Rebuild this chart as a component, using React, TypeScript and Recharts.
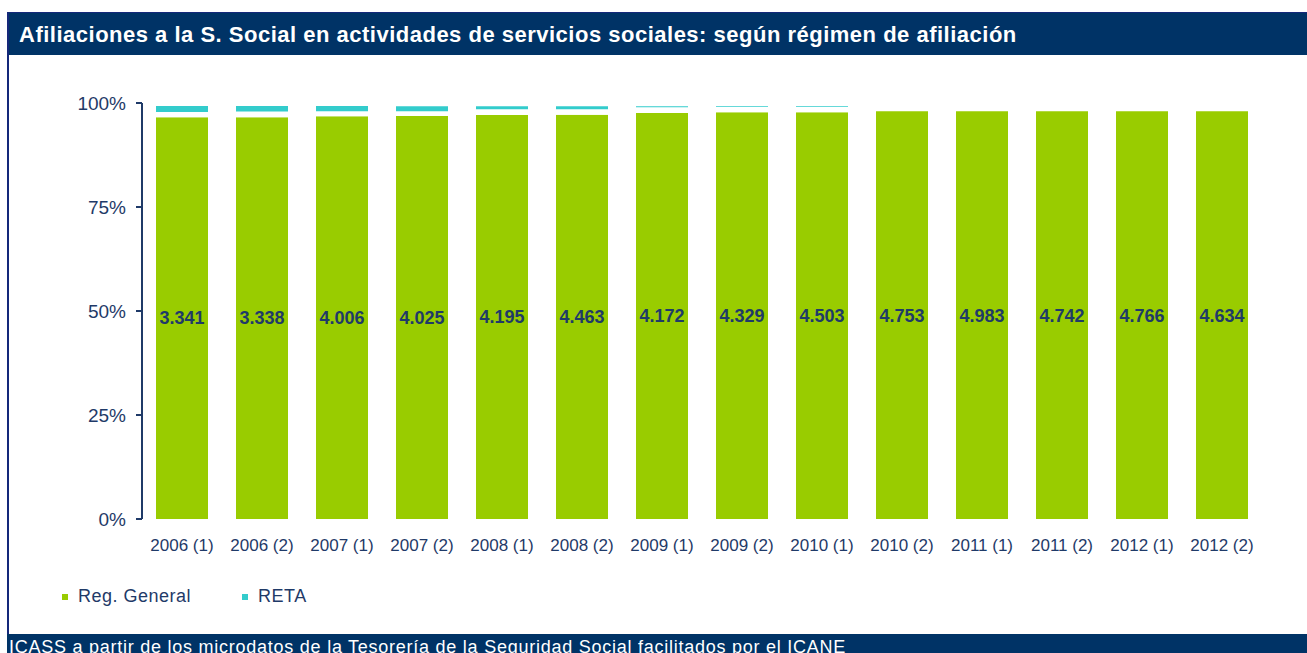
import { BarChart, Bar, XAxis, YAxis, LabelList } from "recharts";

/* ── Data ── */
const periods = [
  "2006 (1)", "2006 (2)", "2007 (1)", "2007 (2)", "2008 (1)", "2008 (2)", "2009 (1)",
  "2009 (2)", "2010 (1)", "2010 (2)", "2011 (1)", "2011 (2)", "2012 (1)", "2012 (2)",
];
// afiliados Reg. General (labels on bars)
const regGeneralCount = [3341, 3338, 4006, 4025, 4195, 4463, 4172, 4329, 4503, 4753, 4983, 4742, 4766, 4634];
// shares (%)
const regGeneralPct = [96.6, 96.6, 96.8, 96.9, 97.1, 97.2, 97.6, 97.8, 97.8, 98.0, 98.0, 98.0, 98.0, 98.0];
const otrosPct = [1.25, 1.35, 1.2, 1.1, 1.4, 1.3, 1.35, 1.3, 1.3, 0, 0, 0, 0, 0];
const retaPct = [1.4, 1.3, 1.3, 1.2, 0.7, 0.7, 0.25, 0.15, 0.15, 0, 0, 0, 0, 0];
const yTicks = [0, 25, 50, 75, 100];

const data = periods.map((p, i) => ({
  name: p,
  reg: regGeneralPct[i],
  otros: otrosPct[i],
  reta: retaPct[i],
  count: regGeneralCount[i],
}));

const NAVY = "#1F3A68";
const BAR_NAVY = "#003366";
const GREEN = "#99CC00";
const CYAN = "#33CCCC";
const FONT = "'Liberation Sans', Arial, sans-serif";

const fmt = (v: number) => String(v).replace(/\B(?=(\d{3})+(?!\d))/g, ".");

export default function App() {
  return (
    <div style={{ position: "absolute", left: 0, top: 0, width: 1307, height: 653, background: "#fff", overflow: "hidden", fontFamily: FONT }}>
      {/* frame */}
      <div style={{ position: "absolute", left: 7, top: 12, width: 2, height: 641, background: "#14287a" }} />
      {/* title bar */}
      <div
        style={{
          position: "absolute", left: 9, top: 12, width: 1298, height: 43, background: BAR_NAVY,
          borderTop: "1px solid #14287a", boxSizing: "border-box",
          color: "#fff", fontWeight: "bold", fontSize: 22, letterSpacing: 0.5, lineHeight: "43px", paddingLeft: 10, whiteSpace: "nowrap",
        }}
      >
        Afiliaciones a la S. Social en actividades de servicios sociales: según régimen de afiliación
      </div>

      <div style={{ position: "absolute", left: 0, top: 0 }}>
        <BarChart width={1307} height={634} data={data} margin={{ top: 103, right: 45, left: 0, bottom: 75 }}>
          <XAxis
            dataKey="name"
            axisLine={false}
            tickLine={false}
            tickMargin={14}
            height={40}
            interval={0}
            tick={{ fill: NAVY, fontSize: 17, fontFamily: FONT }}
          />
          <YAxis
            type="number"
            domain={[0, 100]}
            ticks={yTicks}
            width={142}
            tickFormatter={(v) => `${v}%`}
            axisLine={{ stroke: NAVY, strokeWidth: 2 }}
            tickLine={{ stroke: NAVY, strokeWidth: 2 }}
            tickSize={6}
            tickMargin={10}
            tick={{ fill: NAVY, fontSize: 19, fontFamily: FONT }}
          />
          <Bar dataKey="reg" stackId="a" fill={GREEN} barSize={52} isAnimationActive={false}>
            <LabelList
              dataKey="count"
              position="center"
              formatter={(v: any) => fmt(Number(v))}
              style={{ fill: NAVY, fontSize: 18, fontWeight: "bold", fontFamily: FONT }}
            />
          </Bar>
          <Bar dataKey="otros" stackId="a" fill="#ffffff" barSize={52} isAnimationActive={false} />
          <Bar dataKey="reta" stackId="a" fill={CYAN} barSize={52} isAnimationActive={false} />
        </BarChart>
      </div>

      {/* legend */}
      <div style={{ position: "absolute", top: 586, left: 62, display: "flex", alignItems: "center", color: NAVY, fontSize: 18, letterSpacing: 0.5 }}>
        <span style={{ width: 6, height: 6, background: GREEN, display: "inline-block", marginRight: 10 }} />
        <span>Reg. General</span>
        <span style={{ width: 6, height: 6, background: CYAN, display: "inline-block", marginLeft: 51, marginRight: 10 }} />
        <span>RETA</span>
      </div>

      {/* footer */}
      <div
        style={{
          position: "absolute", left: 7, top: 634, width: 1300, height: 19, background: BAR_NAVY,
          overflow: "hidden", color: "#fff", fontSize: 18, letterSpacing: 0.75, whiteSpace: "nowrap",
        }}
      >
        <div style={{ position: "absolute", left: 2, top: 3, lineHeight: "20px" }}>
          ICASS a partir de los microdatos de la Tesorería de la Seguridad Social facilitados por el ICANE
        </div>
      </div>
    </div>
  );
}
